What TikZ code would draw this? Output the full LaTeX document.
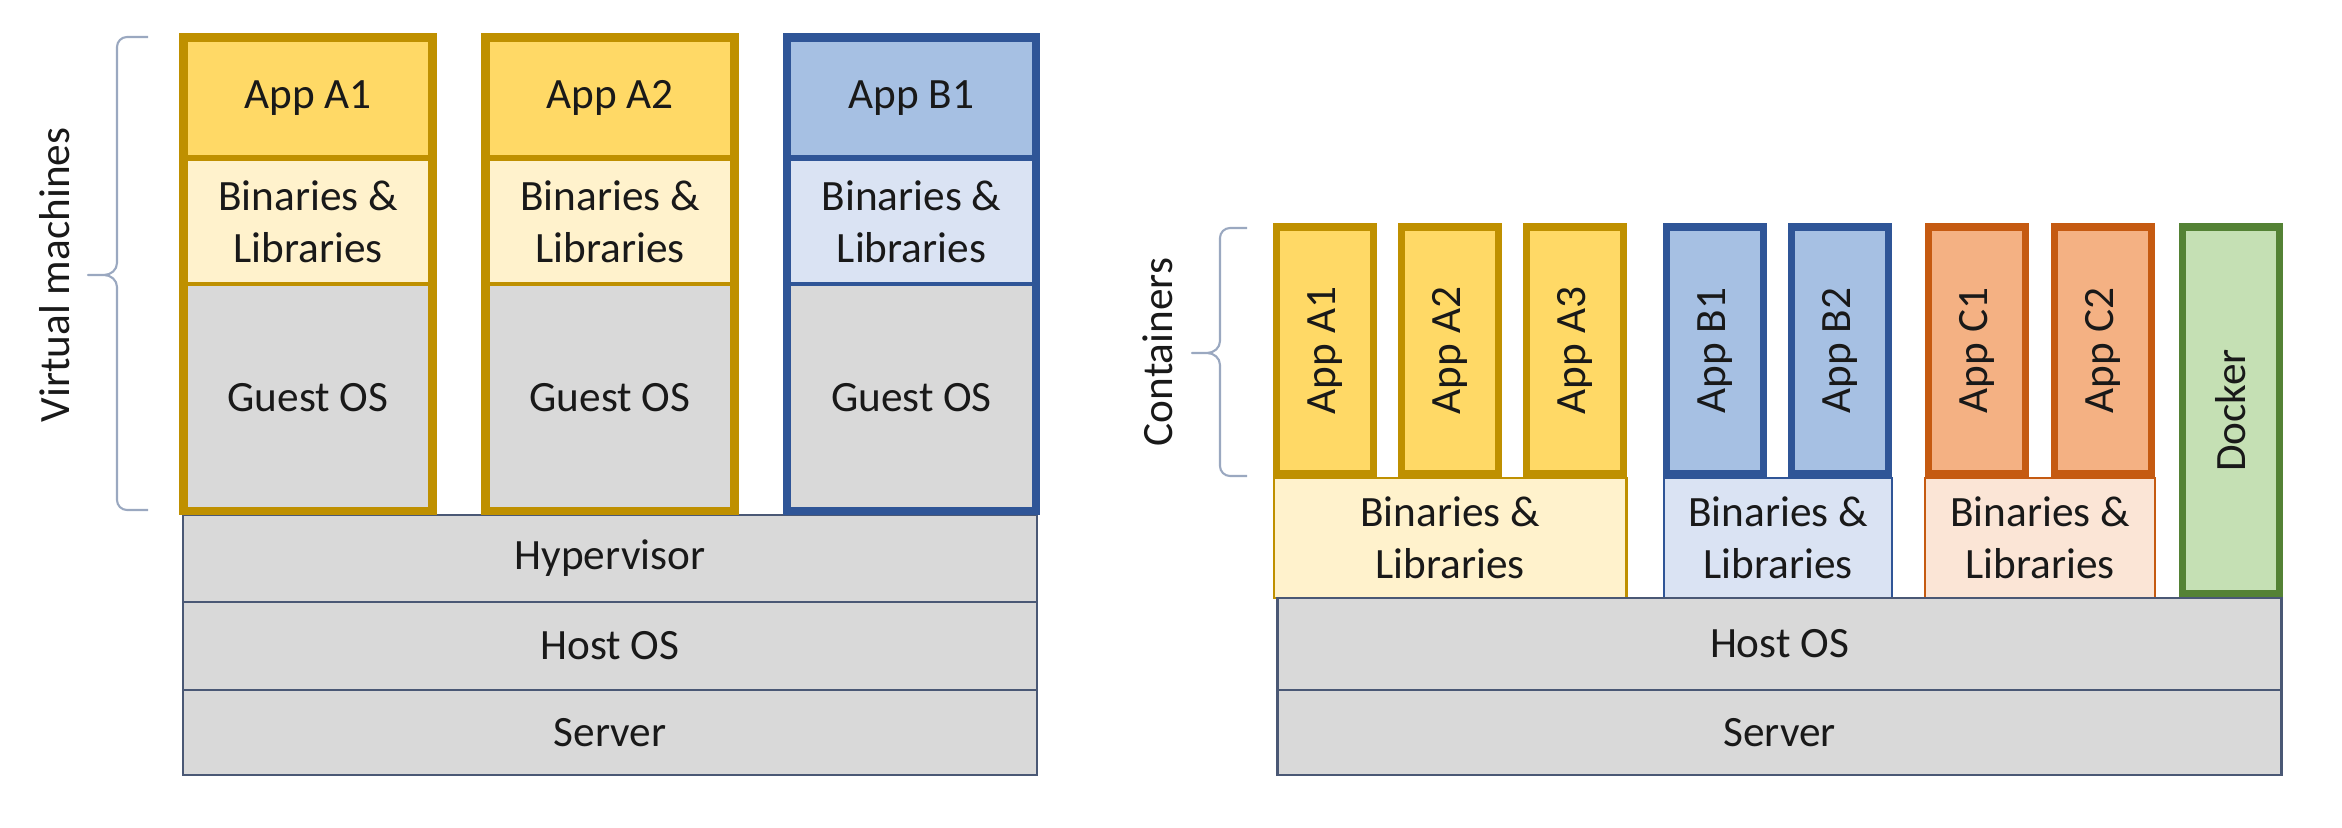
\documentclass[tikz,border=0pt]{standalone}
\usepackage{fontspec}
\setmainfont{Carlito}
\usetikzlibrary{positioning,fit}
\definecolor{goldline}{HTML}{BF9000}
\definecolor{appyellow}{HTML}{FFD966}
\definecolor{binyellow}{HTML}{FFF2CC}
\definecolor{blueline}{HTML}{2F5597}
\definecolor{appblue}{HTML}{A6C0E3}
\definecolor{binblue}{HTML}{DAE3F3}
\definecolor{orangeline}{HTML}{C55A11}
\definecolor{apporange}{HTML}{F4B183}
\definecolor{binorange}{HTML}{FBE5D6}
\definecolor{greenline}{HTML}{548235}
\definecolor{appgreen}{HTML}{C5E0B4}
\definecolor{grayfill}{HTML}{D9D9D9}
\definecolor{layerline}{HTML}{4A5875}
\definecolor{braceline}{HTML}{9AA8C0}
\tikzset{block/.style={inner sep=0pt,outer sep=0pt,align=center,text=black!90,font=\fontsize{12.3pt}{14.8pt}\selectfont},
         vmapp/.style={block,line width=2.4pt,minimum width=2.49cm,minimum height=1.215cm},
         vmbin/.style={block,line width=1.1pt,minimum width=2.49cm,minimum height=1.25cm},
         vmguest/.style={block,fill=grayfill,line width=1.1pt,minimum width=2.49cm,minimum height=2.27cm},
         vmframe/.style={line width=2.4pt,inner sep=0pt,outer sep=0pt},
         layer/.style={block,draw=layerline,fill=grayfill,line width=0.7pt},
         capp/.style={block,rotate=90,line width=2.2pt,minimum width=2.47cm,minimum height=0.97cm},
         cbin/.style={block,line width=0.8pt,minimum height=1.2cm},
         sidelabel/.style={block,rotate=90},
         curly/.style={draw=braceline,line width=0.6pt,line join=round}
}

\begin{document}
\begin{tikzpicture}[x=0.01cm,y=-0.01cm]
  \useasboundingbox (0,0) rectangle (2342,828);

  % virtual machines
  \node[layer,minimum width=8.54cm,minimum height=0.87cm] (hyper) at (610,558.5) {Hypervisor};
  \node[layer,minimum width=8.54cm,minimum height=0.88cm,below=0pt of hyper] (vmhost) {Host OS};
  \node[layer,minimum width=8.54cm,minimum height=0.85cm,below=0pt of vmhost] (vmserver) {Server};

  \node[vmapp,draw=goldline,fill=appyellow] (vma1) at (308,98.25) {App A1};
  \node[vmbin,draw=goldline,fill=binyellow,below=0pt of vma1] (vmbina1) {Binaries \&\\Libraries};
  \node[vmguest,draw=goldline,below=0pt of vmbina1] (vmguesta1) {Guest OS};
  \node[vmframe,draw=goldline,fit=(vma1)(vmguesta1)] (vmframea1) {};

  \node[vmapp,draw=goldline,fill=appyellow] (vma2) at (610,98.25) {App A2};
  \node[vmbin,draw=goldline,fill=binyellow,below=0pt of vma2] (vmbina2) {Binaries \&\\Libraries};
  \node[vmguest,draw=goldline,below=0pt of vmbina2] (vmguesta2) {Guest OS};
  \node[vmframe,draw=goldline,fit=(vma2)(vmguesta2)] (vmframea2) {};

  \node[vmapp,draw=blueline,fill=appblue] (vmb1) at (911.5,98.25) {App B1};
  \node[vmbin,draw=blueline,fill=binblue,below=0pt of vmb1] (vmbinb1) {Binaries \&\\Libraries};
  \node[vmguest,draw=blueline,below=0pt of vmbinb1] (vmguestb1) {Guest OS};
  \node[vmframe,draw=blueline,fit=(vmb1)(vmguestb1)] (vmframeb1) {};

  \coordinate (vmbrtop) at (148,37);
  \coordinate (vmbrtip) at (88,275);
  \coordinate (vmbrbot) at (148,510);
  \draw[curly] (vmbrtop) -- (127,37) to[out=180,in=90] (117,47) -- (117,263)
    to[out=-90,in=0] (104,275) -- (vmbrtip) -- (104,275) to[out=0,in=90] (117,287)
    -- (117,500) to[out=-90,in=180] (127,510) -- (vmbrbot);
  \node[sidelabel] (vmlabel) at (55,275) {Virtual machines};

  % containers
  \node[cbin,draw=goldline,fill=binyellow,minimum width=3.52cm] (cbina) at (1450,538) {Binaries \&\\Libraries};
  \node[cbin,draw=blueline,fill=binblue,minimum width=2.28cm] (cbinb) at (1778,538) {Binaries \&\\Libraries};
  \node[cbin,draw=orangeline,fill=binorange,minimum width=2.30cm] (cbinc) at (2040,538) {Binaries \&\\Libraries};

  \node[capp,draw=goldline,fill=appyellow] (ca1) at (1325,350.5) {App A1};
  \node[capp,draw=goldline,fill=appyellow] (ca2) at (1450,350.5) {App A2};
  \node[capp,draw=goldline,fill=appyellow] (ca3) at (1575,350.5) {App A3};
  \node[capp,draw=blueline,fill=appblue] (cb1) at (1715,350.5) {App B1};
  \node[capp,draw=blueline,fill=appblue] (cb2) at (1840,350.5) {App B2};
  \node[capp,draw=orangeline,fill=apporange] (cc1) at (1977,350.5) {App C1};
  \node[capp,draw=orangeline,fill=apporange] (cc2) at (2103,350.5) {App C2};
  \node[capp,draw=greenline,fill=appgreen,minimum width=3.67cm] (docker) at (2231,410.5) {Docker};

  \node[layer,minimum width=10.03cm,minimum height=0.92cm] (chost) at (1779.5,644) {Host OS};
  \node[layer,minimum width=10.03cm,minimum height=0.85cm,below=0pt of chost] (cserver) {Server};

  \coordinate (cbrtop) at (1247,228);
  \coordinate (cbrtip) at (1192,353);
  \coordinate (cbrbot) at (1247,476);
  \draw[curly] (cbrtop) -- (1230,228) to[out=180,in=90] (1220,238) -- (1220,341)
    to[out=-90,in=0] (1207,353) -- (cbrtip) -- (1207,353) to[out=0,in=90] (1220,365)
    -- (1220,466) to[out=-90,in=180] (1230,476) -- (cbrbot);
  \node[sidelabel] (clabel) at (1158,352) {Containers};
\end{tikzpicture}
\end{document}
